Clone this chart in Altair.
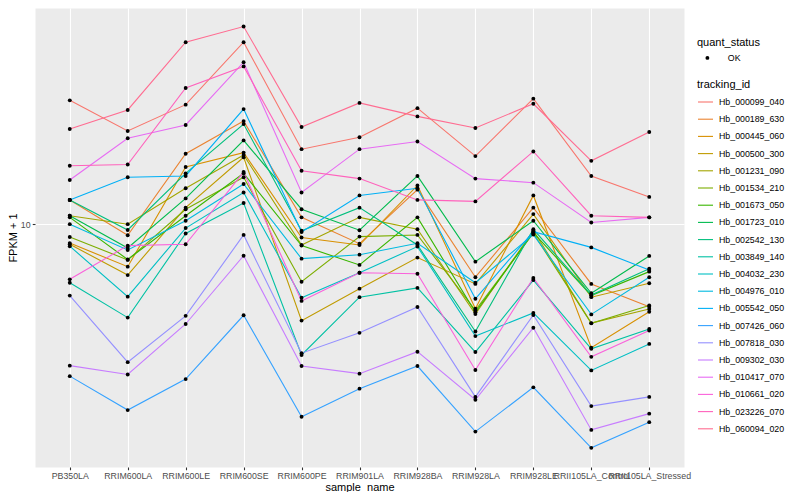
import altair as alt
import pandas as pd

samples = ["PB350LA", "RRIM600LA", "RRIM600LE", "RRIM600SE", "RRIM600PE",
           "RRIM901LA", "RRIM928BA", "RRIM928LA", "RRIM928LE",
           "RRII105LA_Control", "RRII105LA_Stressed"]

tracking_ids = ["Hb_000099_040", "Hb_000189_630", "Hb_000445_060", "Hb_000500_300",
                "Hb_001231_090", "Hb_001534_210", "Hb_001673_050", "Hb_001723_010",
                "Hb_002542_130", "Hb_003849_140", "Hb_004032_230", "Hb_004976_010",
                "Hb_005542_050", "Hb_007426_060", "Hb_007818_030", "Hb_009302_030",
                "Hb_010417_070", "Hb_010661_020", "Hb_023226_070", "Hb_060094_020"]

colors = ["#F8766D", "#EA8331", "#D89000", "#C09B00", "#A3A500", "#7CAE00", "#39B600",
          "#00BB4E", "#00BF7D", "#00C1A3", "#00BFC4", "#00BAE0", "#00B0F6", "#35A2FF",
          "#9590FF", "#C77CFF", "#E76BF3", "#FA62DB", "#FF62BC", "#FF6C91"]

# FPKM + 1 per sample, in the order of `samples`
hb_000099_040 = [20.4, 17.1, 19.9, 28.5, 15.4, 16.5, 19.5, 14.8, 20.6, 13.2, 11.7]
hb_000189_630 = [11.5, 9.38, 15.0, 18.1, 10.4, 8.94, 12.2, 7.37, 11.0, 7.09, 6.22]
hb_000445_060 = [8.97, 7.83, 13.9, 15.1, 9.26, 8.87, 12.5, 6.15, 11.8, 4.91, 6.04]
hb_000500_300 = [8.91, 7.46, 11.0, 14.7, 5.74, 6.90, 8.25, 7.09, 10.6, 6.57, 7.12]
hb_001231_090 = [10.5, 10.0, 12.3, 14.9, 8.87, 10.4, 9.71, 5.96, 9.64, 5.66, 6.14]
hb_001534_210 = [9.29, 8.14, 10.9, 13.1, 7.18, 9.31, 9.40, 6.09, 9.49, 5.65, 6.26]
hb_001673_050 = [10.4, 8.16, 10.5, 13.4, 8.84, 7.91, 10.4, 6.02, 9.53, 6.63, 7.61]
hb_001723_010 = [10.5, 8.72, 11.6, 16.2, 10.9, 9.66, 13.2, 8.06, 10.2, 6.72, 8.33]
hb_002542_130 = [11.5, 9.67, 13.4, 17.8, 9.63, 11.0, 8.87, 5.39, 9.71, 6.65, 7.74]
hb_003849_140 = [7.14, 5.84, 9.48, 11.3, 4.71, 6.57, 6.93, 4.79, 7.25, 4.88, 5.47]
hb_004032_230 = [8.81, 6.59, 9.78, 12.0, 6.55, 7.56, 8.79, 5.25, 6.00, 4.31, 5.02]
hb_004976_010 = [10.0, 8.62, 10.2, 12.6, 8.20, 8.39, 8.96, 7.14, 9.42, 5.95, 7.37]
hb_005542_050 = [11.5, 13.1, 13.2, 19.4, 9.56, 11.8, 12.3, 6.51, 9.58, 8.75, 7.68]
hb_007426_060 = [4.17, 3.43, 4.10, 5.92, 3.30, 3.88, 4.42, 3.03, 3.91, 2.76, 3.20]
hb_007818_030 = [6.63, 4.52, 5.90, 9.40, 4.76, 5.35, 6.21, 3.70, 5.93, 3.51, 3.70]
hb_009302_030 = [4.43, 4.21, 5.63, 8.34, 4.42, 4.23, 4.80, 3.64, 5.51, 3.06, 3.36]
hb_010417_070 = [12.9, 16.4, 17.7, 25.4, 12.0, 15.4, 16.1, 13.0, 12.7, 10.1, 10.4]
hb_010661_020 = [7.28, 8.84, 8.91, 13.5, 6.43, 7.56, 7.52, 4.32, 7.34, 4.66, 5.42]
hb_023226_070 = [14.0, 14.1, 21.9, 24.8, 13.6, 13.0, 11.5, 11.4, 15.2, 10.5, 10.4]
hb_060094_020 = [17.3, 19.3, 28.5, 31.2, 17.5, 20.1, 18.6, 17.4, 20.0, 14.4, 17.0]

series = [hb_000099_040, hb_000189_630, hb_000445_060, hb_000500_300, hb_001231_090,
          hb_001534_210, hb_001673_050, hb_001723_010, hb_002542_130, hb_003849_140,
          hb_004032_230, hb_004976_010, hb_005542_050, hb_007426_060, hb_007818_030,
          hb_009302_030, hb_010417_070, hb_010661_020, hb_023226_070, hb_060094_020]

rows = []
for tid, vals in zip(tracking_ids, series):
    for i, (s, v) in enumerate(zip(samples, vals)):
        rows.append({"tracking_id": tid, "sample_name": s, "idx": i,
                     "fpkm": v, "quant_status": "OK"})
df = pd.DataFrame(rows)

FONT = "Liberation Sans"

x_enc = alt.X("sample_name:N", sort=samples,
              scale=alt.Scale(type="point", padding=0.6),
              axis=alt.Axis(title="sample_name", labelAngle=0, labelOverlap=False,
                            labelFlush=False, grid=True,
                            titleBaseline="bottom", titleY=25))
y_enc = alt.Y("fpkm:Q",
              scale=alt.Scale(type="log", domain=[2.4716, 34.71], nice=False, zero=False),
              axis=alt.Axis(title="FPKM + 1", values=[10], format="d", grid=True))

lines = alt.Chart(df).mark_line(strokeWidth=1.1).encode(
    x=x_enc,
    y=y_enc,
    color=alt.Color("tracking_id:N",
                    scale=alt.Scale(domain=tracking_ids, range=colors),
                    legend=alt.Legend(title="tracking_id", orient="none",
                                      legendX=662, legendY=71,
                                      symbolType="stroke", symbolSize=225,
                                      symbolStrokeWidth=1.1, rowPadding=3.2,
                                      labelOffset=5, titlePadding=3.5)),
    order=alt.Order("idx:Q"),
)

points = alt.Chart(df).mark_point(filled=True, size=15, color="black", opacity=1).encode(
    x=x_enc,
    y=y_enc,
    shape=alt.Shape("quant_status:N", scale=alt.Scale(range=["circle"]),
                    legend=alt.Legend(title="quant_status", orient="none",
                                      legendX=662, legendY=28.5,
                                      symbolSize=15, symbolOffset=6,
                                      symbolFillColor="black", symbolStrokeColor="black",
                                      labelOffset=16, titlePadding=6)),
)

chart = alt.layer(lines, points).properties(
    width=649, height=459,
    padding={"left": 27, "top": 0, "right": 108, "bottom": 25},
    autosize=alt.AutoSizeParams(type="none"),
).configure_view(
    fill="#EBEBEB", stroke="transparent"
).configure_axis(
    domain=False,
    gridColor="white", gridWidth=1.1,
    tickColor="#333333", tickSize=2.75, tickWidth=1.1,
    labelFont=FONT, labelFontSize=8.8, labelColor="#4D4D4D", labelPadding=2.2,
    titleFont=FONT, titleFontSize=11, titleFontWeight="normal", titleColor="black",
).configure_axisY(
    titlePadding=2,
).configure_legend(
    labelFont=FONT, labelFontSize=8.8, labelColor="black",
    titleFont=FONT, titleFontSize=11, titleFontWeight="normal", titleColor="black",
    padding=0,
)

chart.save("out.html", embed_options={"renderer": "svg", "actions": False})
